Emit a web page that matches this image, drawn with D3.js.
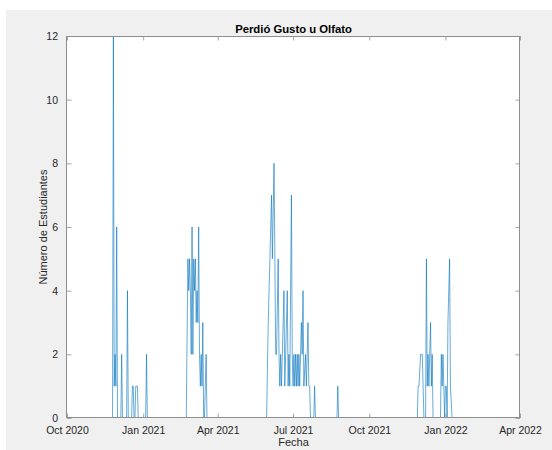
<!DOCTYPE html>
<html>
<head>
<meta charset="utf-8">
<script src="https://cdn.jsdelivr.net/npm/d3@7"></script>
<style>
  html, body { margin: 0; padding: 0; background: #ffffff; }
  svg { display: block; }
</style>
</head>
<body>
<script>
// Daily reports of students who lost taste or smell
const dates = [
  "2020-11-25","2020-11-26","2020-11-27","2020-11-28","2020-11-29","2020-11-30","2020-12-01",
  "2020-12-05","2020-12-06","2020-12-07",
  "2020-12-12","2020-12-13","2020-12-14",
  "2020-12-18","2020-12-19","2020-12-20","2020-12-21",
  "2020-12-22","2020-12-23","2020-12-24","2020-12-25","2020-12-26",
  "2021-01-04","2021-01-05","2021-01-06",
  "2021-02-22","2021-02-24","2021-02-25","2021-02-26","2021-02-27","2021-02-28",
  "2021-03-01","2021-03-02","2021-03-03","2021-03-04","2021-03-05","2021-03-06","2021-03-07",
  "2021-03-08","2021-03-09","2021-03-10","2021-03-11","2021-03-12","2021-03-13","2021-03-14",
  "2021-03-15","2021-03-16","2021-03-18","2021-03-19",
  "2021-05-30","2021-06-01","2021-06-03","2021-06-05","2021-06-06","2021-06-08","2021-06-09",
  "2021-06-10","2021-06-11","2021-06-13","2021-06-14","2021-06-15","2021-06-16","2021-06-17",
  "2021-06-18","2021-06-20","2021-06-21","2021-06-22","2021-06-24","2021-06-25","2021-06-26",
  "2021-06-27","2021-06-29","2021-06-30","2021-07-01","2021-07-02","2021-07-03","2021-07-04",
  "2021-07-05","2021-07-06","2021-07-07","2021-07-08","2021-07-09","2021-07-11","2021-07-12",
  "2021-07-13","2021-07-14","2021-07-16","2021-07-17","2021-07-19","2021-07-20","2021-07-21",
  "2021-07-22","2021-07-26","2021-07-27","2021-07-28",
  "2021-08-23","2021-08-24","2021-08-25",
  "2021-11-28","2021-11-29","2021-11-30","2021-12-02","2021-12-03","2021-12-04","2021-12-05",
  "2021-12-06","2021-12-08","2021-12-09","2021-12-10","2021-12-11","2021-12-12","2021-12-14",
  "2021-12-15","2021-12-16","2021-12-17",
  "2021-12-26","2021-12-27","2021-12-28","2021-12-29","2021-12-30","2021-12-31","2022-01-01",
  "2022-01-02","2022-01-03","2022-01-04","2022-01-06","2022-01-07","2022-01-09"
];

const counts = [
  0, 12, 1, 2, 1, 6, 0,
  0, 2, 0,
  0, 4, 0,
  0, 1, 1, 0,
  0, 1, 1, 1, 0,
  0, 2, 0,
  0, 5, 4, 5, 4, 2,
  6, 2, 5, 4, 5, 3, 4,
  3, 6, 2, 1, 2, 1, 3,
  0, 0, 2, 0,
  0, 3, 5, 7, 5, 8, 5,
  2, 2, 5, 2, 1, 2, 1,
  2, 4, 1, 2, 4, 1, 2,
  1, 7, 2, 1, 2, 1, 2,
  1, 2, 1, 2, 1, 3, 2,
  4, 1, 2, 1, 3, 1, 1,
  0, 0, 1, 0,
  0, 1, 0,
  0, 1, 1, 2, 2, 2, 1,
  0, 0, 5, 1, 2, 1, 3,
  1, 2, 0,
  0, 2, 1, 2, 1, 0, 1,
  1, 0, 3, 5, 1, 0
];

const xTickDates = ["2020-10-01","2021-01-01","2021-04-01","2021-07-01","2021-10-01","2022-01-01","2022-04-01"];
const xTickLabels = ["Oct 2020","Jan 2021","Apr 2021","Jul 2021","Oct 2021","Jan 2022","Apr 2022"];
const yTicks = [0, 2, 4, 6, 8, 10, 12];
const xDomain = ["2020-10-01", "2022-04-01"];
const yDomain = [0, 12];

const chartTitle = "Perdió Gusto u Olfato";
const xTitle = "Fecha";
const yTitle = "Número de Estudiantes";

// ---- layout ----
const W = 552, H = 450;
const plotL = 67, plotR = 520, plotT = 36, plotB = 418;
const tickLen = 4.5;
const font = "'Liberation Sans', Arial, Helvetica, sans-serif";
const textColor = "#262626";
const axisColor = "#8e8e8e";

const parse = d3.utcParse("%Y-%m-%d");
const series = dates.map((d, i) => ({ date: parse(d), value: counts[i] }));

const x = d3.scaleUtc().domain(xDomain.map(parse)).range([plotL, plotR]);
const y = d3.scaleLinear().domain(yDomain).range([plotB, plotT]);

const svg = d3.select("body").append("svg")
  .attr("width", W).attr("height", H);

// figure background
svg.append("rect").attr("x", 6).attr("y", 10)
  .attr("width", W - 6).attr("height", H - 10).attr("fill", "#f0f0f0");

// plotting area
svg.append("rect").attr("x", plotL).attr("y", plotT)
  .attr("width", plotR - plotL).attr("height", plotB - plotT).attr("fill", "#ffffff");

svg.append("clipPath").attr("id", "plotclip")
  .append("rect").attr("x", plotL).attr("y", plotT)
  .attr("width", plotR - plotL).attr("height", plotB - plotT);

// data line
const line = d3.line().x(d => x(d.date)).y(d => y(d.value));
svg.append("path")
  .datum(series)
  .attr("clip-path", "url(#plotclip)")
  .attr("fill", "none")
  .attr("stroke", "#0072BD")
  .attr("stroke-width", 0.6)
  .attr("stroke-linejoin", "miter")
  .attr("d", line);

// axes: inward ticks on all four sides, labels on bottom and left
const xTickVals = xTickDates.map(parse);
const fmtX = d => xTickLabels[xTickVals.findIndex(t => +t === +d)];

const axB = d3.axisBottom(x).tickValues(xTickVals).tickSizeInner(-tickLen).tickSizeOuter(0)
  .tickPadding(9).tickFormat(fmtX);
const axT = d3.axisTop(x).tickValues(xTickVals).tickSizeInner(-tickLen).tickSizeOuter(0)
  .tickFormat("");
const axL = d3.axisLeft(y).tickValues(yTicks).tickSizeInner(-tickLen).tickSizeOuter(0)
  .tickPadding(9).tickFormat(d3.format("d"));
const axR = d3.axisRight(y).tickValues(yTicks).tickSizeInner(-tickLen).tickSizeOuter(0)
  .tickFormat("");

function style(g) {
  g.select(".domain").remove();
  g.selectAll(".tick line").attr("stroke", axisColor).attr("stroke-width", 0.8);
  g.selectAll(".tick text").attr("fill", textColor)
    .style("font-family", font).style("font-size", "10.5px");
}

svg.append("g").attr("transform", `translate(0,${plotB})`).call(axB).call(style);
svg.append("g").attr("transform", `translate(0,${plotT})`).call(axT).call(style);
svg.append("g").attr("transform", `translate(${plotL},0)`).call(axL).call(style);
svg.append("g").attr("transform", `translate(${plotR},0)`).call(axR).call(style);

// box, snapped to whole pixels so it covers the zero baseline of the line
svg.append("rect")
  .attr("x", plotL - 0.5).attr("y", plotT + 0.5)
  .attr("width", plotR - plotL).attr("height", plotB - plotT - 1)
  .attr("fill", "none").attr("stroke", axisColor).attr("stroke-width", 1);

// titles
svg.append("text")
  .attr("x", (plotL + plotR) / 2).attr("y", 33)
  .attr("text-anchor", "middle")
  .attr("fill", "#000")
  .style("font-family", font).style("font-size", "11.3px").style("font-weight", "bold")
  .text(chartTitle);

svg.append("text")
  .attr("x", (plotL + plotR) / 2).attr("y", 446)
  .attr("text-anchor", "middle")
  .attr("fill", textColor)
  .style("font-family", font).style("font-size", "11px")
  .text(xTitle);

svg.append("text")
  .attr("transform", `translate(46.5,${(plotT + plotB) / 2}) rotate(-90)`)
  .attr("text-anchor", "middle")
  .attr("fill", textColor)
  .style("font-family", font).style("font-size", "11px")
  .text(yTitle);
</script>
</body>
</html>
